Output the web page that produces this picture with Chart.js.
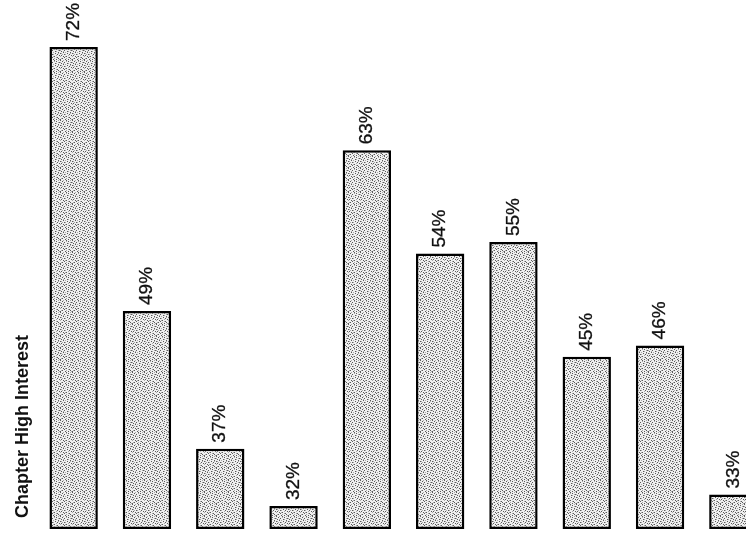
<!DOCTYPE html>
<html lang="en">
<head>
    <meta charset="UTF-8">
    <title>Chapter High Interest</title>
    <script src="https://cdn.jsdelivr.net/npm/chart.js"></script>
    <style>
        html, body { margin: 0; padding: 0; background: #fff; overflow: hidden; }
        .wrap { width: 770px; height: 538px; }
    </style>
</head>
<body>
    <div class="wrap">
        <canvas id="interestChart" width="770" height="538"></canvas>
    </div>

    <script>
        // data
        const chapters = ['Ch 1', 'Ch 2', 'Ch 3', 'Ch 4', 'Ch 5', 'Ch 6', 'Ch 7', 'Ch 8', 'Ch 9', 'Ch 10'];
        const highInterest = [72, 49, 37, 32, 63, 54, 55, 45, 46, 33];
        const axisMin = 30;
        const axisMax = 72;
        const axisTitle = 'Chapter High Interest';

        // stippled grey fill, like the printed dot screen
        // '#' = dark dot, '+' = mid grey dot, '.' = paper
        const stippleRows = [
            '#..+..#...+.',
            '..#...+.#...',
            '+...#.....+#',
            '.#.+...#+...',
            '...#.+....#.',
            '#+.....#..+.',
            '..+.#+...#..',
            '.#......+..#',
            '+..#.+#.....',
            '....#...+#..',
            '.+#...+...#.',
            '#....#..#..+'
        ];
        function makeStipple() {
            const c = document.createElement('canvas');
            c.width = 12; c.height = 12;
            const g = c.getContext('2d');
            g.fillStyle = '#f0f0f0';
            g.fillRect(0, 0, 12, 12);
            stippleRows.forEach((row, y) => {
                for (let x = 0; x < row.length; x++) {
                    if (row[x] === '#') { g.fillStyle = '#5a5a5a'; g.fillRect(x, y, 1, 1); }
                    if (row[x] === '+') { g.fillStyle = '#aaaaaa'; g.fillRect(x, y, 1, 1); }
                }
            });
            return g.createPattern(c, 'repeat');
        }

        // value labels turned on their side above each bar
        const barLabels = {
            id: 'barLabels',
            afterDatasetsDraw(chart) {
                const ctx = chart.ctx;
                const meta = chart.getDatasetMeta(0);
                ctx.save();
                ctx.font = '19px "Liberation Sans", Arial, sans-serif';
                ctx.fillStyle = '#111';
                ctx.strokeStyle = '#111';
                ctx.lineWidth = 0.3;
                ctx.textAlign = 'left';
                ctx.textBaseline = 'middle';
                meta.data.forEach((bar, i) => {
                    ctx.save();
                    ctx.translate(bar.x, bar.y - 6);
                    ctx.rotate(-Math.PI / 2);
                    ctx.fillText(highInterest[i] + '%', 0, 0);
                    ctx.strokeText(highInterest[i] + '%', 0, 0);
                    ctx.restore();
                });
                ctx.restore();
            }
        };

        // axis title sits low on the left edge
        const sideTitle = {
            id: 'sideTitle',
            afterDraw(chart) {
                const ctx = chart.ctx;
                ctx.save();
                ctx.font = 'bold 18px "Liberation Sans", Arial, sans-serif';
                ctx.fillStyle = '#111';
                ctx.textAlign = 'left';
                ctx.textBaseline = 'middle';
                ctx.translate(23, chart.chartArea.bottom - 11);
                ctx.rotate(-Math.PI / 2);
                ctx.fillText(axisTitle, 0, 0);
                ctx.restore();
            }
        };

        const ctx = document.getElementById('interestChart').getContext('2d');
        const myChart = new Chart(ctx, {
            type: 'bar',
            data: {
                labels: chapters,
                datasets: [{
                    label: axisTitle,
                    data: highInterest,
                    base: axisMin,
                    backgroundColor: makeStipple(),
                    borderColor: '#000',
                    borderWidth: 2.5,
                    borderSkipped: false,
                    barPercentage: 0.66,
                    categoryPercentage: 1,
                    clip: false
                }]
            },
            options: {
                responsive: false,
                animation: false,
                layout: { padding: { left: 37, top: 47, bottom: 9, right: 0 } },
                plugins: {
                    legend: { display: false },
                    tooltip: { enabled: false }
                },
                scales: {
                    x: { display: false },
                    y: { display: false, min: axisMin, max: axisMax }
                }
            },
            plugins: [barLabels, sideTitle]
        });
    </script>
</body>
</html>
